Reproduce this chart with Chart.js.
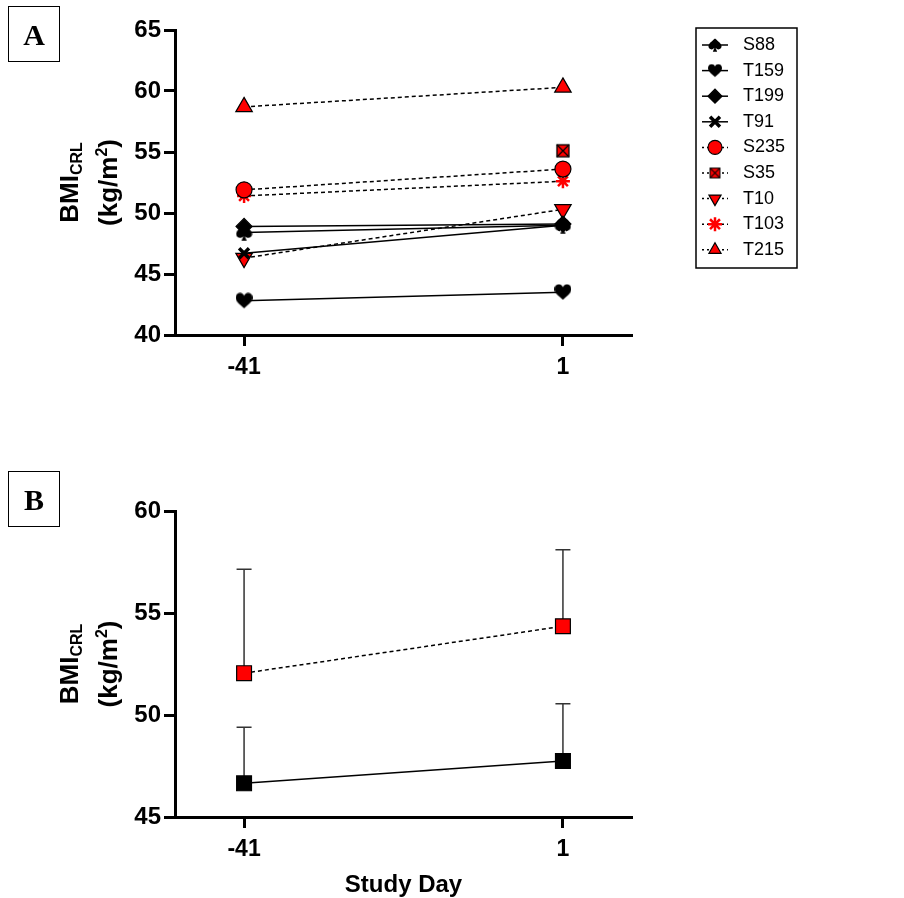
<!DOCTYPE html>
<html>
<head>
<meta charset="utf-8">
<script src="https://cdn.jsdelivr.net/npm/chart.js@4.4.1/dist/chart.umd.min.js"></script>
<style>
  body { margin: 0; background: #fff; width: 904px; height: 898px; position: relative; overflow: hidden; }
  canvas { position: absolute; left: 0; }
  .tag { position: absolute; left: 8px; width: 50px; height: 54px; border: 1.5px solid #000;
         font: bold 30px "Liberation Serif", serif; text-align: center; line-height: 56px; z-index: 2; }
</style>
</head>
<body>
<canvas id="chartA" width="904" height="400" style="top:0"></canvas>
<canvas id="chartB" width="904" height="438" style="top:460px"></canvas>
<div class="tag" style="top:6px">A</div>
<div class="tag" style="top:471px">B</div>
<script>
// study days shown on the x axis
const days = ['-41', '1'];

// panel A - individual BMI values
const s88 = [48.4, 49.0];
const t159 = [42.8, 43.5];
const t199 = [48.9, 49.1];
const t91 = [46.7, 49.0];
const s235 = [51.9, 53.6];
const s35 = [null, 55.1];
const t10 = [46.3, 50.3];
const t103 = [51.4, 52.6];
const t215 = [58.7, 60.3];

// panel B - group means and SD
const groups = ['SHAM-exposed (N=4)', 'HDM-exposed (N=5)'];
const shamMean = [46.65, 47.75];
const shamSD = [2.75, 2.8];
const hdmMean = [52.05, 54.35];
const hdmSD = [5.1, 3.75];

const FONT = '"Liberation Sans", Arial, sans-serif';

// little marker images for shapes chart.js doesn't have
function icon(size, draw) {
  const c = document.createElement('canvas');
  c.width = size; c.height = size;
  const g = c.getContext('2d');
  g.scale(size / 16, size / 16);
  draw(g);
  return c;
}
const heartPath = g => {
  g.fillStyle = '#000';
  g.beginPath();
  g.moveTo(8, 15);
  g.bezierCurveTo(3, 11, 0, 8, 0, 5);
  g.bezierCurveTo(0, 2, 2, 0.5, 4.3, 0.5);
  g.bezierCurveTo(6.3, 0.5, 7.6, 2, 8, 3.2);
  g.bezierCurveTo(8.4, 2, 9.7, 0.5, 11.7, 0.5);
  g.bezierCurveTo(14, 0.5, 16, 2, 16, 5);
  g.bezierCurveTo(16, 8, 13, 11, 8, 15);
  g.fill();
};
const spadePath = g => {
  g.fillStyle = '#000';
  g.beginPath();
  g.moveTo(8, 0.5);
  g.bezierCurveTo(12, 4, 15.5, 6.5, 15.5, 9.5);
  g.bezierCurveTo(15.5, 11.8, 13.8, 13, 12, 13);
  g.bezierCurveTo(10.5, 13, 9.3, 12.2, 8.6, 11.2);
  g.lineTo(10.5, 15.8);
  g.lineTo(5.5, 15.8);
  g.lineTo(7.4, 11.2);
  g.bezierCurveTo(6.7, 12.2, 5.5, 13, 4, 13);
  g.bezierCurveTo(2.2, 13, 0.5, 11.8, 0.5, 9.5);
  g.bezierCurveTo(0.5, 6.5, 4, 4, 8, 0.5);
  g.fill();
};
const boxPath = g => {
  g.fillStyle = '#f00';
  g.fillRect(2, 2, 12, 12);
  g.strokeStyle = '#000';
  g.lineWidth = 1.3;
  g.strokeRect(2, 2, 12, 12);
  g.beginPath();
  g.moveTo(2, 2); g.lineTo(14, 14);
  g.moveTo(14, 2); g.lineTo(2, 14);
  g.stroke();
};
const heart = icon(17, heartPath), heartS = icon(14, heartPath);
const spade = icon(17, spadePath), spadeS = icon(14, spadePath);
const boxX = icon(16, boxPath), boxXS = icon(13, boxPath);

const pts = arr => arr.map((v, i) => ({ x: i, y: v }));

function series(label, values, style, extra) {
  return Object.assign({
    label: label,
    data: pts(values),
    borderColor: '#000',
    borderWidth: 1.5,
    pointStyle: style,
    pointRadius: 7,
    pointHoverRadius: 7,
    pointBorderWidth: 1.2,
    pointBorderColor: '#000',
    pointBackgroundColor: '#000',
    pointHoverBackgroundColor: '#000'
  }, extra || {});
}
const dash = { borderDash: [4, 3], pointBackgroundColor: '#f00', pointHoverBackgroundColor: '#f00' };

const axisX = (h, pad) => ({
  type: 'linear',
  min: -0.2166,
  max: 1.2166,
  afterBuildTicks: s => { s.ticks = days.map((d, i) => ({ value: i })); },
  ticks: { callback: v => days[v], color: '#000', padding: pad, font: { family: FONT, weight: 'bold', size: 23 } },
  grid: { drawOnChartArea: false, tickLength: 11, tickWidth: 3, tickColor: '#000' },
  border: { color: '#000', width: 3 },
  afterFit: s => { s.height = h; }
});
const axisY = (min, max) => ({
  min: min,
  max: max,
  ticks: { stepSize: 5, color: '#000', padding: 3, font: { family: FONT, weight: 'bold', size: 24 } },
  grid: { drawOnChartArea: false, tickLength: 11, tickWidth: 3, tickColor: '#000' },
  border: { color: '#000', width: 3 },
  afterFit: s => { s.width = 175; }
});

// BMI_CRL (kg/m^2) written sideways, with the sub/superscripts
const yTitle = {
  id: 'yTitle',
  afterDraw(chart) {
    const ctx = chart.ctx;
    const a = chart.chartArea;
    const cy = (a.top + a.bottom) / 2;
    const big = 'bold 26px ' + FONT, small = 'bold 16px ' + FONT;
    ctx.save();
    ctx.fillStyle = '#000';
    ctx.textBaseline = 'alphabetic';
    ctx.textAlign = 'left';
    // line 1
    ctx.save();
    ctx.translate(78, cy);
    ctx.rotate(-Math.PI / 2);
    ctx.font = big; const w1 = ctx.measureText('BMI').width;
    ctx.font = small; const w2 = ctx.measureText('CRL').width;
    let x = -(w1 + w2) / 2;
    ctx.font = big; ctx.fillText('BMI', x, 0);
    ctx.font = small; ctx.fillText('CRL', x + w1, 4);
    ctx.restore();
    // line 2
    ctx.save();
    ctx.translate(117, cy);
    ctx.rotate(-Math.PI / 2);
    ctx.font = big; const a1 = ctx.measureText('(kg/m').width, a3 = ctx.measureText(')').width;
    ctx.font = small; const a2 = ctx.measureText('2').width;
    x = -(a1 + a2 + a3) / 2;
    ctx.font = big; ctx.fillText('(kg/m', x, 0);
    ctx.font = small; ctx.fillText('2', x + a1, -10);
    ctx.font = big; ctx.fillText(')', x + a1 + a2, 0);
    ctx.restore();
    ctx.restore();
  }
};

// boxed legend with a line + marker sample per row
const boxLegend = {
  id: 'boxLegend',
  afterDraw(chart, args, o) {
    const ctx = chart.ctx;
    ctx.save();
    ctx.strokeStyle = '#000';
    ctx.lineWidth = 1.5;
    ctx.strokeRect(o.x, o.y, o.w, o.h);
    chart.data.datasets.forEach((d, i) => {
      const y = o.y + o.first + i * o.step;
      ctx.beginPath();
      ctx.setLineDash(d.borderDash ? [2, 3] : []);
      ctx.strokeStyle = '#000';
      ctx.lineWidth = 1.5;
      ctx.moveTo(o.x + o.l0, y);
      ctx.lineTo(o.x + o.l1, y);
      ctx.stroke();
      ctx.setLineDash([]);
      ctx.fillStyle = d.pointBackgroundColor;
      ctx.strokeStyle = d.pointBorderColor;
      ctx.lineWidth = d.pointBorderWidth;
      Chart.helpers.drawPoint(ctx, {
        pointStyle: d.legendStyle || d.pointStyle, rotation: d.pointRotation || 0,
        radius: o.radius, borderWidth: d.pointBorderWidth
      }, o.x + o.mx, y);
      ctx.fillStyle = '#000';
      ctx.font = o.font;
      ctx.textBaseline = 'middle';
      ctx.textAlign = 'left';
      ctx.fillText(d.label, o.x + o.tx, y);
    });
    ctx.restore();
  }
};

// upward SD whiskers for panel B
const errorBars = {
  id: 'errorBars',
  beforeDatasetsDraw(chart) {
    const ctx = chart.ctx, xs = chart.scales.x, ys = chart.scales.y;
    ctx.save();
    ctx.strokeStyle = '#333';
    ctx.lineWidth = 1.5;
    chart.data.datasets.forEach(d => {
      d.data.forEach((p, i) => {
        const px = xs.getPixelForValue(p.x);
        const y0 = ys.getPixelForValue(p.y);
        const y1 = ys.getPixelForValue(p.y + d.sd[i]);
        ctx.beginPath();
        ctx.moveTo(px, y0); ctx.lineTo(px, y1);
        ctx.moveTo(px - 7.5, y1); ctx.lineTo(px + 7.5, y1);
        ctx.stroke();
      });
    });
    ctx.restore();
  }
};

new Chart(document.getElementById('chartA'), {
  type: 'line',
  data: {
    datasets: [
      series('S88', s88, spade, { legendStyle: spadeS }),
      series('T159', t159, heart, { legendStyle: heartS }),
      series('T199', t199, 'rectRot', { pointRadius: 8 }),
      series('T91', t91, 'crossRot', { pointBorderWidth: 3.5 }),
      series('S235', s235, 'circle', Object.assign({}, dash, { pointRadius: 8 })),
      series('S35', s35, boxX, Object.assign({}, dash, { legendStyle: boxXS })),
      series('T10', t10, 'triangle', Object.assign({}, dash, { pointRotation: 180, pointRadius: 9.5 })),
      series('T103', t103, 'star', Object.assign({}, dash, { pointBorderColor: '#f00', pointBorderWidth: 2.5 })),
      series('T215', t215, 'triangle', Object.assign({}, dash, { pointRadius: 9.5 }))
    ]
  },
  options: {
    responsive: false,
    animation: false,
    events: [],
    layout: { autoPadding: false, padding: { top: 30, right: 272, bottom: 0, left: 0 } },
    scales: { x: axisX(65, 8), y: axisY(40, 65) },
    plugins: {
      legend: { display: false },
      tooltip: { enabled: false },
      boxLegend: { x: 696, y: 28, w: 101, h: 240, first: 17, step: 25.6, l0: 6, l1: 32, mx: 19, tx: 47, radius: 7, font: '18px ' + FONT }
    }
  },
  plugins: [yTitle, boxLegend]
});

new Chart(document.getElementById('chartB'), {
  type: 'line',
  data: {
    datasets: [
      series(groups[0], shamMean, 'rect', { sd: shamSD, pointRadius: 10.5 }),
      series(groups[1], hdmMean, 'rect', Object.assign({}, dash, { sd: hdmSD, pointRadius: 10.5 }))
    ]
  },
  options: {
    responsive: false,
    animation: false,
    events: [],
    layout: { autoPadding: false, padding: { top: 51, right: 272, bottom: 0, left: 0 } },
    scales: {
      x: Object.assign(axisX(81, 8), {
        title: { display: true, text: 'Study Day', color: '#000', padding: { top: 0, bottom: 1 }, font: { family: FONT, weight: 'bold', size: 24, lineHeight: 1 } }
      }),
      y: axisY(45, 60)
    },
    plugins: {
      legend: { display: false },
      tooltip: { enabled: false },
      boxLegend: { x: 637, y: 533, w: 280, h: 80, first: 24, step: 35, l0: 9, l1: 36, mx: 23, tx: 53, radius: 9, font: '20px ' + FONT }
    }
  },
  plugins: [yTitle, boxLegend, errorBars]
});
</script>
</body>
</html>
